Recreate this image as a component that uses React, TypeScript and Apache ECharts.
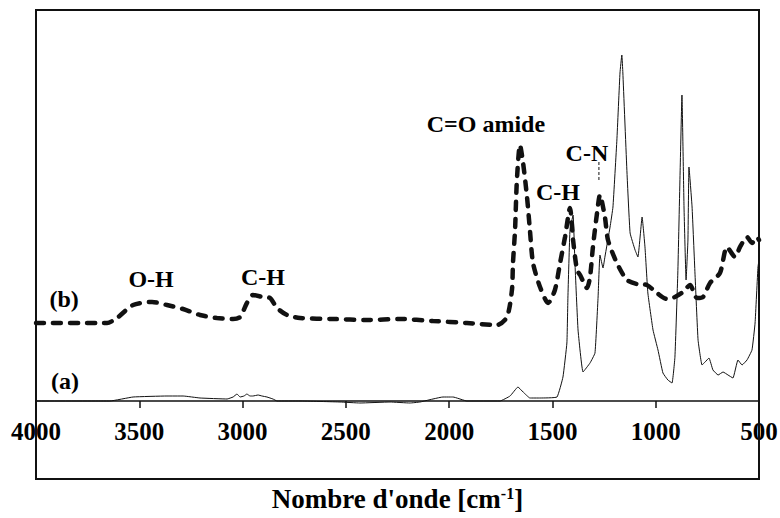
import React, { useEffect, useRef } from "react";
import * as echarts from "echarts";

// Wavenumber (cm-1) and relative absorbance
const waveB = [4000, 3656, 3608, 3530, 3438, 3366, 3288, 3206, 3124, 3046, 3012, 2979, 2950, 2901, 2867, 2833, 2785, 2722, 2562, 2398, 2238, 2078, 1914, 1768, 1720, 1696, 1691, 1681, 1672, 1657, 1642, 1623, 1609, 1594, 1560, 1521, 1488, 1463, 1439, 1415, 1400, 1381, 1366, 1333, 1318, 1304, 1284, 1270, 1246, 1231, 1188, 1139, 1091, 1043, 994, 946, 907, 868, 834, 800, 771, 737, 689, 655, 616, 592, 558, 534, 510, 500];
const absB = [0.78, 0.78, 0.83, 0.96, 0.99, 0.96, 0.92, 0.86, 0.83, 0.82, 0.84, 0.98, 1.06, 1.04, 1.03, 0.93, 0.86, 0.83, 0.82, 0.81, 0.82, 0.8, 0.78, 0.76, 0.84, 1.11, 1.38, 1.71, 2.21, 2.56, 2.38, 2.04, 1.71, 1.38, 1.14, 0.98, 1.11, 1.38, 1.64, 1.93, 1.61, 1.31, 1.26, 1.13, 1.24, 1.54, 1.88, 2.06, 1.84, 1.61, 1.38, 1.21, 1.17, 1.16, 1.08, 1.02, 1.04, 1.09, 1.16, 1.03, 1.04, 1.18, 1.28, 1.54, 1.44, 1.54, 1.64, 1.58, 1.64, 1.61];

const waveA = [4000, 3690, 3642, 3530, 3366, 3288, 3206, 3075, 3046, 3027, 3012, 2993, 2979, 2964, 2950, 2925, 2906, 2882, 2853, 2833, 2722, 2528, 2432, 2286, 2190, 2141, 2030, 1996, 1981, 1914, 1754, 1705, 1667, 1642, 1609, 1560, 1478, 1449, 1430, 1425, 1415, 1400, 1391, 1376, 1352, 1318, 1294, 1279, 1270, 1255, 1246, 1221, 1207, 1188, 1173, 1164, 1159, 1139, 1124, 1100, 1086, 1066, 1052, 1038, 1013, 989, 965, 941, 921, 907, 893, 882, 873, 863, 853, 844, 839, 824, 810, 795, 776, 761, 742, 723, 698, 674, 650, 626, 602, 582, 558, 534, 519, 505, 500];
const absA = [0, 0, 0, 0.04, 0.05, 0.05, 0.03, 0.02, 0.04, 0.07, 0.04, 0.05, 0.07, 0.05, 0.05, 0.06, 0.05, 0.04, 0.02, 0, 0, -0.01, -0.02, -0.01, -0.02, -0.01, 0.04, 0.04, 0.04, 0, 0, 0.05, 0.14, 0.09, 0.03, 0.03, 0.04, 0.24, 0.58, 1.04, 1.71, 1.86, 1.38, 0.71, 0.29, 0.38, 0.48, 1.04, 1.46, 1.33, 1.44, 1.74, 1.94, 2.61, 3.28, 3.46, 3.28, 2.28, 1.68, 1.51, 1.44, 1.84, 1.54, 1.08, 0.71, 0.51, 0.28, 0.21, 0.18, 0.44, 1.28, 2.28, 3.06, 1.94, 1.21, 1.61, 2.34, 1.94, 1.28, 0.61, 0.36, 0.39, 0.43, 0.31, 0.26, 0.29, 0.26, 0.23, 0.41, 0.36, 0.41, 0.51, 0.78, 1.34, 1.41];

// Annotations: label, wavenumber, absorbance position
const labelTexts = ["(b)", "(a)", "O-H", "C-H", "C=O amide", "C-N", "C-H"];
const labelWaves = [3864, 3860, 3443, 2901, 1822, 1333, 1473];
const labelAbs = [1.02, 0.2, 1.22, 1.24, 2.77, 2.48, 2.09];

// C-N leader line
const leaderWave = [1275, 1275];
const leaderAbs = [2.39, 2.19];

const xTickMin = 500;
const xTickMax = 4000;
const xTickStep = 500;

const FONT = "'Liberation Serif', 'Times New Roman', serif";
const INK = "#000";
const LINE = "#111";

export default function App() {
  const ref = useRef<HTMLDivElement>(null);
  useEffect(() => {
    if (!ref.current) return;
    const chart = echarts.init(ref.current, null, { renderer: "svg" });
    const zip = (xs: number[], ys: number[]) => xs.map((x, i) => [x, ys[i]]);
    chart.setOption({
      animation: false,
      grid: {
        left: 36,
        right: 21,
        top: 10,
        bottom: 117,
        show: false,
        containLabel: false,
        outerBoundsMode: "none",
      },
      xAxis: {
        type: "value",
        min: xTickMin,
        max: xTickMax,
        interval: xTickStep,
        inverse: true,
        axisLine: { onZero: false, lineStyle: { color: LINE, width: 1.5 } },
        axisTick: { show: true, inside: false, length: 7, lineStyle: { color: LINE, width: 1.5 } },
        axisLabel: {
          margin: 18,
          fontSize: 25,
          fontWeight: "bold",
          fontFamily: FONT,
          color: INK,
          showMinLabel: true,
          showMaxLabel: true,
          formatter: (v: number) => String(v),
        },
        splitLine: { show: false },
        name: "Nombre d'onde [cm{sup|-1}]",
        nameLocation: "middle",
        nameGap: 84,
        nameTextStyle: {
          fontSize: 27,
          fontWeight: "bold",
          fontFamily: FONT,
          color: INK,
          rich: {
            sup: {
              fontSize: 16,
              fontWeight: "bold",
              fontFamily: FONT,
              color: INK,
              verticalAlign: "top",
              padding: [0, 0, 11, 0],
            },
          },
        },
      },
      yAxis: {
        type: "value",
        min: 0,
        max: 3.91,
        show: false,
        splitLine: { show: false },
      },
      series: [
        {
          type: "line",
          name: "(b)",
          data: zip(waveB, absB),
          showSymbol: false,
          smooth: 0.25,
          clip: false,
          lineStyle: { color: LINE, width: 4.5, type: [8, 9], cap: "round" },
          z: 3,
        },
        {
          type: "line",
          name: "(a)",
          data: zip(waveA, absA),
          showSymbol: false,
          smooth: 0.1,
          clip: false,
          lineStyle: { color: LINE, width: 1 },
          z: 2,
        },
        {
          type: "line",
          name: "leader",
          data: zip(leaderWave, leaderAbs),
          showSymbol: false,
          lineStyle: { color: LINE, width: 1, type: [3, 2] },
        },
      ],
    });
    const texts = labelTexts.map((t, i) => {
      const [px, py] = chart.convertToPixel({ gridIndex: 0 }, [labelWaves[i], labelAbs[i]]) as number[];
      return {
        type: "text",
        x: px,
        y: py,
        silent: true,
        z: 20,
        style: {
          text: t,
          fill: INK,
          font: `bold 24px ${FONT}`,
          align: "center",
          verticalAlign: "middle",
        },
      };
    });
    chart.setOption({
      graphic: [
        {
          type: "rect",
          shape: { x: 36, y: 10, width: 723, height: 469 },
          style: { fill: "none", stroke: LINE, lineWidth: 2 },
          silent: true,
          z: 10,
        },
        ...texts,
      ],
    });
    return () => chart.dispose();
  }, []);
  return (
    <div
      ref={ref}
      style={{ position: "fixed", left: 0, top: 0, width: 780, height: 518, background: "#fff" }}
    />
  );
}
